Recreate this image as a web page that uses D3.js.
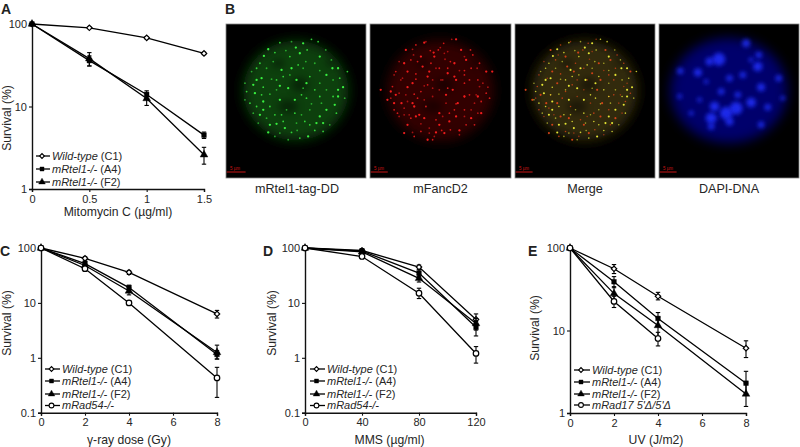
<!DOCTYPE html>
<html><head><meta charset="utf-8">
<script src="https://d3js.org/d3.v7.min.js"></script>
<style>html,body{margin:0;padding:0;background:#fff}svg{display:block}text{font-family:"Liberation Sans",Arial,sans-serif;fill:#262626}</style>
</head><body><svg id="c" width="800" height="447"></svg>
<script>
// ---------- survival data (x, mean, low error, high error) ----------
const aDose=[0,0.5,1,1.5];
const aWT=[100,90,68,44], aWTlo=[100,88,66,42.5], aWThi=[100,92,70,45.5];
const aA4=[100,36,14,4.5], aA4lo=[100,31,12.5,4.1], aA4hi=[100,41,15.5,4.9];
const aF2=[100,38,12.5,2.6], aF2lo=[100,31,10.3,2.0], aF2hi=[100,45,14.5,3.2];

const cDose=[0,2,4,8];
const cWT=[100,65,36,6.3], cWTlo=[100,60,33,5.3], cWThi=[100,70,39,7.3];
const cA4=[100,52,19,1.15], cA4lo=[100,47,16,0.95], cA4hi=[100,57,21,1.35];
const cF2=[100,48,16.5,1.25], cF2lo=[100,44,14,0.95], cF2hi=[100,52,19,1.7];
const cR54=[100,42,10,0.43], cR54lo=[100,38,9,0.19], cR54hi=[100,46,11,0.67];

const dDose=[0,40,80,120];
const dWT=[100,90,45,5], dWTlo=[100,84,41,3.9], dWThi=[100,96,49,6.3];
const dA4=[100,88,35,3.6], dA4lo=[100,80,30,2.5], dA4hi=[100,96,40,4.6];
const dF2=[100,85,28,4.2], dF2lo=[100,77,24,3.2], dF2hi=[100,93,32,5.2];
const dR54=[100,70,15,1.2], dR54lo=[100,64,12,0.8], dR54hi=[100,76,18.5,1.6];

const eDose=[0,2,4,8];
const eWT=[100,56,26,6.1], eWTlo=[100,49,23.5,4.7], eWThi=[100,63,29,7.5];
const eA4=[100,39,14,2.3], eA4lo=[100,33,11.5,1.7], eA4hi=[100,45,16.5,3.2];
const eF2=[100,28,11.5,1.7], eF2lo=[100,22,8.5,1.2], eF2hi=[100,34,14.5,2.3];
const eR17=[100,22.5,8], eR17lo=[100,19,6.5], eR17hi=[100,26,9.5];

const legendWT="Wild-type", legendA4="mRtel1-/-", legendF2="mRtel1-/-", legendR54="mRad54-/-", legendR17="mRad17 5'Δ/5'Δ";
const micrographTitles=["mRtel1-tag-DD","mFancD2","Merge","DAPI-DNA"];

// ---------- micrograph foci (image-space units) ----------
const greenFoci=[[145,148],[180,128],[198,152],[228,143],[275,118],[318,150],[240,160],[210,170],[258,185],[300,170],[120,190],[160,185],[215,205],[270,230],[300,212],[338,205],[383,215],[155,238],[180,258],[130,262],[95,215],[105,280],[80,275],[150,283],[205,265],[245,285],[300,250],[370,262],[340,290],[275,312],[320,330],[225,340],[140,355],[120,345],[165,345],[100,340],[195,385],[215,398],[232,392],[145,398],[285,392],[330,375],[300,350],[255,365],[205,420],[170,372],[350,340],[375,295],[130,305],[90,310],[250,265],[180,300],[300,290],[340,240],[230,240],[190,230],[250,205],[110,240],[150,320],[270,330],[125,235],[262,150],[200,330],[290,370],[240,415],[165,410],
[132,168],[165,158],[215,125],[250,130],[295,125],[335,180],[355,205],[110,205],[140,205],[185,210],[235,195],[285,190],[320,225],[360,235],[75,250],[100,255],[170,240],[210,225],[260,250],[285,270],[320,270],[355,270],[125,285],[170,270],[225,300],[260,295],[305,310],[345,315],[110,320],[75,300],[130,330],[185,345],[245,345],[310,370],[270,375],[115,370],[150,375],[190,365],[230,370],[265,410],[310,395],[180,400],[355,290]];
const redFoci=[[125,150],[155,135],[185,125],[208,158],[238,130],[262,118],[290,150],[140,180],[105,185],[175,200],[200,190],[242,178],[270,190],[325,165],[285,212],[365,215],[345,190],[90,225],[130,215],[155,222],[205,240],[250,220],[315,240],[345,260],[50,270],[85,260],[125,285],[112,310],[170,275],[225,270],[265,270],[300,290],[330,310],[145,310],[185,320],[245,310],[275,350],[300,330],[120,325],[155,350],[215,360],[235,350],[320,355],[350,305],[105,350],[130,375],[170,395],[195,400],[225,375],[258,390],[285,405],[190,420],[305,375],[80,295],[70,300],[365,280],
[148,165],[170,170],[222,150],[250,155],[305,180],[320,205],[115,235],[145,250],[190,255],[235,240],[275,240],[300,225],[335,285],[95,285],[160,295],[205,290],[280,310],[315,285],[135,345],[180,355],[255,340],[340,340],[120,400],[150,410],[210,410],[240,400],[90,330],[355,250],[195,215],[225,205]];
const dapiBlobs=[[198,178,8],[170,185,5],[280,130,5],[315,200,6],[318,165,4],[135,218,5],[82,213,4],[378,235,4],[325,262,5],[250,325,8],[220,340,8],[175,355,7],[185,320,6],[295,308,6],[345,322,4],[230,235,4],[270,225,4],[205,275,4],[255,285,4],[325,375,4],[175,380,4],[230,365,5],[80,290,3],[390,295,3],[160,245,3],[140,300,3],[295,180,3],[115,340,3]];
const darkPatches=[[175,190,20,13],[205,320,30,20],[240,255,26,22],[330,190,12,10]];

const marks={wt:{s:d3.symbolSquare,size:15,fill:"#fff",rot:45},a4:{s:d3.symbolSquare,size:22,fill:"#000",rot:0},f2:{s:d3.symbolTriangle,size:26,fill:"#000",rot:0},ko:{s:d3.symbolCircle,size:24,fill:"#fff",rot:0}};

const svg=d3.select("#c"), defs=svg.append("defs");
const blur=(id,s,p)=>defs.append("filter").attr("id",id).attr("x",-p+"%").attr("y",-p+"%").attr("width",(100+2*p)+"%").attr("height",(100+2*p)+"%").append("feGaussianBlur").attr("stdDeviation",s);
blur("b6",6,50);blur("b2",3.5,120);blur("b15",2.2,150);blur("b05",0.5,200);

// ---------- micrographs ----------
const frames=[[226,366],[370,511],[515,655],[659,799]];
const frameTop=24, frameBottom=178;
frames.forEach(([x0,x1],i)=>{
  const px=d3.scaleLinear().domain([18,439]).range([x0,x1]);
  const py=d3.scaleLinear().domain([72,535]).range([frameTop,frameBottom]);
  const k=(x1-x0)/421;
  const clip="f"+i;
  defs.append("clipPath").attr("id",clip).append("rect").attr("x",x0).attr("y",frameTop).attr("width",x1-x0).attr("height",frameBottom-frameTop);
  const g=svg.append("g").attr("clip-path",`url(#${clip})`);
  g.append("rect").attr("x",x0).attr("y",frameTop).attr("width",x1-x0).attr("height",frameBottom-frameTop).attr("fill","#000");
  const base=["#0b400e","#300505","#302c08","#06066c"][i];
  g.append("ellipse").attr("cx",px(228)).attr("cy",py(272)).attr("rx",(i==3?176:158)*k).attr("ry",(i==3?158:150)*k).attr("fill",base).attr("filter","url(#b6)");
  if(i<3) g.selectAll(".dark").data(darkPatches).join("ellipse").attr("cx",d=>px(d[0])).attr("cy",d=>py(d[1])).attr("rx",d=>d[2]*k).attr("ry",d=>d[3]*k).attr("fill","#000").attr("opacity",0.4).attr("filter","url(#b2)");
  if(i==3) g.selectAll(".blob").data(dapiBlobs).join("circle").attr("cx",d=>px(d[0])).attr("cy",d=>py(d[1])).attr("r",d=>d[2]*0.8).attr("fill","#2430ff").attr("opacity",.85).attr("filter","url(#b15)");
  const drawFoci=(data,col,r,op)=>g.append("g").selectAll("circle").data(data).join("circle").attr("cx",d=>px(d[0])).attr("cy",d=>py(d[1])).attr("r",(d,j)=>j%3==0?r*1.1:r*0.85).attr("fill",col).attr("opacity",(d,j)=>j%3==0?1:j%3==1?op:op*0.75).attr("filter","url(#b05)");
  if(i==0) drawFoci(greenFoci,"#38f040",1.05,.85);
  if(i==1) drawFoci(redFoci.concat(greenFoci.slice(0,60)),"#f01c1c",1.05,.85);
  if(i==2){drawFoci(redFoci,"#d04018",0.95,.85);drawFoci(greenFoci,"#e4e434",0.95,.85);}
  g.append("line").attr("x1",px(20)).attr("x2",px(i==0?77:71)).attr("y1",py(517)).attr("y2",py(517)).attr("stroke","#c81414").attr("stroke-width",1);
  g.append("text").attr("x",px(30)).attr("y",py(512)).style("font-size","4.5px").style("fill","#c81414").text("5 µm");
  svg.append("rect").attr("x",x0).attr("y",frameTop).attr("width",x1-x0).attr("height",frameBottom-frameTop).attr("fill","none").attr("stroke","#888").attr("stroke-width",0.8);
  svg.append("text").attr("x",(x0+x1)/2+(i==0?1:0)).attr("y",193).attr("text-anchor","middle").style("font-size","12.6px").text(micrographTitles[i]);
});

// ---------- survival plots ----------
function plot(o){
  const x=d3.scaleLinear().domain([0,o.xMax]).range([o.l,o.r]);
  const y=d3.scaleLog().domain([o.yMin,100]).range([o.b,o.t]);
  const g=svg.append("g");
  const yAxis=d3.axisLeft(y).tickValues(o.yTicks).tickFormat(d3.format("~g")).tickSize(3).tickPadding(2);
  const xAxis=d3.axisBottom(x).tickValues(o.xTicks).tickFormat(d3.format("~g")).tickSize(3).tickPadding(3);
  [g.append("g").attr("transform",`translate(${o.l},0)`).call(yAxis),
   g.append("g").attr("transform",`translate(0,${o.b})`).call(xAxis)].forEach(a=>{
    a.selectAll("path").attr("stroke","#111").attr("stroke-width",1.4);
    a.selectAll("line").attr("stroke","#111").attr("stroke-width",1.1);
    a.selectAll("text").style("font-size","11px").style("font-family",'"Liberation Sans",Arial,sans-serif').style("fill","#262626");
  });
  const line=d3.line().x(d=>x(d[0])).y(d=>y(d[1]));
  o.series.forEach(s=>{
    const pts=s.v.map((v,i)=>[o.xs[i],v,s.lo[i],s.hi[i]]);
    const sg=g.append("g");
    sg.append("path").attr("d",line(pts)).attr("fill","none").attr("stroke","#000").attr("stroke-width",1.3);
    pts.forEach(p=>{
      if(p[3]<=p[2]) return;
      sg.append("line").attr("x1",x(p[0])).attr("x2",x(p[0])).attr("y1",y(p[2])).attr("y2",y(p[3])).attr("stroke","#000").attr("stroke-width",1.1);
      [p[2],p[3]].forEach(e=>sg.append("line").attr("x1",x(p[0])-2.2).attr("x2",x(p[0])+2.2).attr("y1",y(e)).attr("y2",y(e)).attr("stroke","#000").attr("stroke-width",1.1));
    });
    const m=marks[s.m];
    sg.selectAll("path.pt").data(pts).join("path").attr("class","pt").attr("transform",d=>`translate(${x(d[0])},${y(d[1])}) rotate(${m.rot})`)
      .attr("d",d3.symbol().type(m.s).size(m.size)).attr("fill",m.fill).attr("stroke","#000").attr("stroke-width",s.m=="wt"||s.m=="ko"?1.2:0.4);
  });
  o.legend.forEach((s,i)=>{
    const ly=o.ly[i], m=marks[s.m];
    g.append("line").attr("x1",o.lx0).attr("x2",o.lx1).attr("y1",ly).attr("y2",ly).attr("stroke","#000").attr("stroke-width",1.3);
    g.append("path").attr("transform",`translate(${(o.lx0+o.lx1)/2-1},${ly}) rotate(${m.rot})`).attr("d",d3.symbol().type(m.s).size(m.size*0.75)).attr("fill",m.fill).attr("stroke","#000").attr("stroke-width",s.m=="wt"||s.m=="ko"?1.1:0.4);
    const t=g.append("text").attr("x",o.lx1+2).attr("y",ly+3.8).style("font-size","11px");
    t.append("tspan").style("font-style","italic").text(s.name);
    if(s.clone) t.append("tspan").text(" ("+s.clone+")");
  });
  g.append("text").attr("x",(o.l+o.r)/2+(o.xtOff||0)).attr("y",o.xtY).attr("text-anchor","middle").style("font-size","12.2px").text(o.xTitle);
  g.append("text").attr("transform",`translate(${o.ytX},${o.ytY}) rotate(-90)`).attr("text-anchor","middle").style("font-size","12.2px").text("Survival (%)");
  svg.append("text").attr("x",o.lab[1]).attr("y",o.lab[2]).style("font-size","14px").style("font-weight","bold").style("fill","#222").text(o.lab[0]);
}
const S=(name,clone,m,v,lo,hi)=>({name,clone,m,v,lo,hi});
plot({l:32,r:204,t:24,b:189,xMax:1.5,yMin:1,xs:aDose,xTicks:aDose,yTicks:[1,10,100],xTitle:"Mitomycin C (µg/ml)",xtY:216,ytX:11,ytY:118,lab:["A",1,14],
  series:[S(legendWT,"C1","wt",aWT,aWTlo,aWThi),S(legendA4,"A4","a4",aA4,aA4lo,aA4hi),S(legendF2,"F2","f2",aF2,aF2lo,aF2hi)],
  get legend(){return this.series},ly:[156,169,182],lx0:36,lx1:50});
plot({l:41,r:217,t:248,b:412.7,xMax:8,yMin:0.1,xs:cDose,xTicks:[0,2,4,6,8],yTicks:[0.1,1,10,100],xTitle:"γ-ray dose (Gy)",xtY:443.5,ytX:11,ytY:323,lab:["C",0,256],
  series:[S(legendWT,"C1","wt",cWT,cWTlo,cWThi),S(legendA4,"A4","a4",cA4,cA4lo,cA4hi),S(legendF2,"F2","f2",cF2,cF2lo,cF2hi),S(legendR54,"","ko",cR54,cR54lo,cR54hi)],
  get legend(){return this.series},ly:[369,381,394,405.5],lx0:45,lx1:60});
plot({l:305,r:476,t:248,b:412.7,xMax:120,yMin:0.1,xs:dDose,xTicks:dDose,yTicks:[0.1,1,10,100],xTitle:"MMS (µg/ml)",xtY:443.5,xtOff:-1,ytX:276,ytY:323,lab:["D",263,256],
  series:[S(legendWT,"C1","wt",dWT,dWTlo,dWThi),S(legendA4,"A4","a4",dA4,dA4lo,dA4hi),S(legendF2,"F2","f2",dF2,dF2lo,dF2hi),S(legendR54,"","ko",dR54,dR54lo,dR54hi)],
  get legend(){return this.series},ly:[369,381,394,405.5],lx0:310,lx1:325});
plot({l:570,r:746,t:248,b:413,xMax:8,yMin:1,xs:eDose,xTicks:[0,2,4,6,8],yTicks:[1,10,100],xTitle:"UV (J/m2)",xtY:443.5,xtOff:-2,ytX:539,ytY:328,lab:["E",528,256],
  series:[S(legendWT,"C1","wt",eWT,eWTlo,eWThi),S(legendA4,"A4","a4",eA4,eA4lo,eA4hi),S(legendF2,"F2","f2",eF2,eF2lo,eF2hi),S(legendR17,"","ko",eR17,eR17lo,eR17hi)],
  get legend(){return this.series},ly:[370,382,394,405],lx0:574,lx1:590});
svg.append("text").attr("x",225).attr("y",14).style("font-size","14px").style("font-weight","bold").style("fill","#222").text("B");
</script></body></html>
